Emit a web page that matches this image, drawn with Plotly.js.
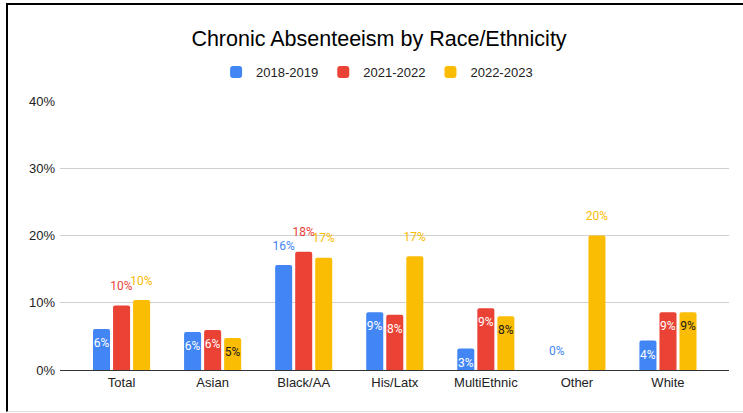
<!DOCTYPE html>
<html>
<head>
<meta charset="utf-8">
<script src="https://cdn.plot.ly/plotly-3.0.1.min.js"></script>
<style>
  html, body { margin: 0; padding: 0; background: #fff; }
  #wrap { position: relative; width: 743px; height: 413px; overflow: hidden; }
  #chart { position: absolute; left: 0; top: 0; width: 743px; height: 413px; }
  #frame { position: absolute; left: 6px; top: 3px; width: 760px; height: 406px;
           border-left: 2px solid #000; border-top: 2px solid #000;
           border-bottom: 1px solid #ddd; pointer-events: none; }
</style>
</head>
<body>
<div id="wrap">
  <div id="chart"></div>
  <div id="frame"></div>
</div>
<script>
// ---- data ----
const categories = ["Total", "Asian", "Black/AA", "His/Latx", "MultiEthnic", "Other", "White"];
const seriesNames = ["2018-2019", "2021-2022", "2022-2023"];
const values2018 = [0.061, 0.0565, 0.156, 0.086, 0.032, 0.0, 0.044];
const values2021 = [0.096, 0.0595, 0.176, 0.082, 0.092, null, 0.086];
const values2022 = [0.104, 0.0476, 0.167, 0.169, 0.080, 0.200, 0.086];
const yTickVals = [0, 0.1, 0.2, 0.3, 0.4];
const yTickText = ["0%", "10%", "20%", "30%", "40%"];

// ---- label placement (style) ----
const outsideMask = [
  [false, false, true, false, false, true, false],
  [true, false, true, false, false, false, false],
  [true, false, true, true, false, true, false]
];
const colors = ["#4285F4", "#EA4335", "#FBBC04"];
const insideColors = ["#ffffff", "#ffffff", "#1a1a1a"];
const allValues = [values2018, values2021, values2022];

const SPAN = "<span style='font-size:12px'>%{text}</span>";
const AXIS_FONT = { family: "Liberation Sans, Arial, sans-serif", size: 13, color: "#222" };

const traces = allValues.map((vals, i) => ({
  type: "bar",
  name: seriesNames[i],
  x: categories,
  y: vals,
  marker: { color: colors[i] },
  text: vals.map(v => v === null ? "" : Math.round(v * 100) + "%"),
  texttemplate: outsideMask[i].map(o => o ? SPAN + "<br> " : " <br>" + SPAN),
  textposition: outsideMask[i].map(o => o ? "outside" : "inside"),
  insidetextanchor: "end",
  constraintext: "none",
  textangle: 0,
  cliponaxis: false,
  insidetextfont: { family: "Roboto, sans-serif", size: 7, color: insideColors[i] },
  outsidetextfont: { family: "Roboto, sans-serif", size: 8, color: colors[i] },
  hoverinfo: "skip"
}));

const layout = {
  width: 743,
  height: 413,
  margin: { l: 60, r: 14, t: 101, b: 43 },
  paper_bgcolor: "rgba(0,0,0,0)",
  plot_bgcolor: "rgba(0,0,0,0)",
  barmode: "group",
  bargap: 0.34,
  bargroupgap: 0.15,
  barcornerradius: 2,
  showlegend: true,
  title: {
    text: "Chronic Absenteeism by Race/Ethnicity",
    font: { family: "Liberation Sans, Arial, sans-serif", size: 21.5, color: "#000" },
    x: 379 / 743, xref: "container", xanchor: "center",
    y: 1 - 38 / 413, yref: "container", yanchor: "middle"
  },
  legend: {
    orientation: "h",
    x: 0.474, xanchor: "center",
    y: 1.108, yanchor: "middle",
    font: { family: "Liberation Sans, Arial, sans-serif", size: 13, color: "#222" },
    itemclick: false
  },
  xaxis: {
    type: "category",
    range: [-0.676, 6.67],
    showgrid: false,
    showline: false,
    ticks: "",
    ticklabelstandoff: 3,
    tickfont: AXIS_FONT,
    fixedrange: true
  },
  yaxis: {
    range: [0, 0.4],
    tickvals: yTickVals,
    ticktext: yTickText,
    showgrid: true,
    gridcolor: "#d0d0d0",
    gridwidth: 1,
    zeroline: true,
    zerolinecolor: "#333",
    zerolinewidth: 1,
    showline: false,
    ticks: "",
    ticklabelstandoff: 4,
    tickfont: AXIS_FONT,
    fixedrange: true
  }
};

Plotly.newPlot("chart", traces, layout, { displayModeBar: false, staticPlot: true });
</script>
</body>
</html>
